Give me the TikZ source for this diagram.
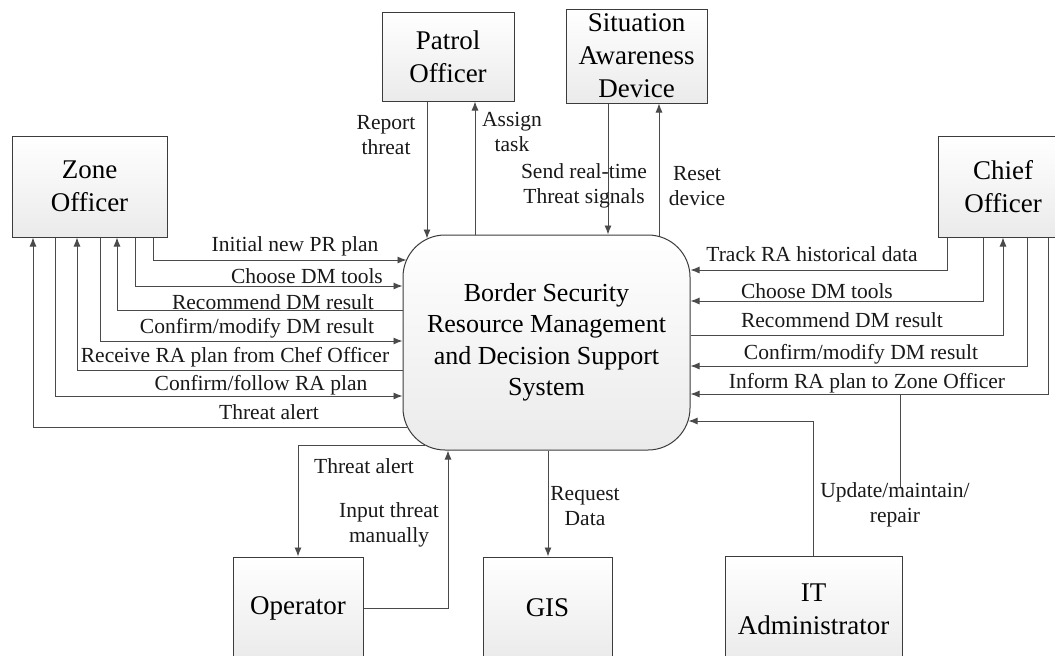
\documentclass[tikz,border=0pt]{standalone}
\usepackage{fontspec}
\setmainfont{Liberation Serif}
\usetikzlibrary{arrows.meta,calc}
\definecolor{ln}{HTML}{4A4A4A}
\definecolor{bd}{HTML}{3C3C3C}
\tikzset{
 ent/.style={draw=bd, line width=1pt, top color=white, bottom color=black!8, font=\fontsize{27}{33}\selectfont, align=center, inner sep=0pt},
 sysbox/.style={draw=bd, line width=1pt, rounded corners=42pt, top color=white, bottom color=black!8, font=\fontsize{26}{31.5}\selectfont, align=center, minimum width=287pt, minimum height=215pt, inner sep=0pt},
 flow/.style={draw=ln, line width=0.9pt, -{Latex[length=9pt,width=7pt]}},
 plain/.style={draw=ln, line width=0.9pt},
 lbl/.style={font=\fontsize{21.5}{25}\selectfont, inner sep=0pt, align=center, text=black!90},
}
\begin{document}
\begin{tikzpicture}[x=1pt,y=-1pt]
\useasboundingbox (0,0) rectangle (1055,656);
\fill[white] (0,0) rectangle (1055,656);
\clip (0,0) rectangle (1055,656);

% nodes
\node[sysbox] (sys) at (546.5,342.5) {Border Security\\Resource Management\\and Decision Support\\System};
\node[ent, minimum width=155pt, minimum height=101pt] (zone) at (89.5,186.5) {Zone\\Officer};
\node[ent, minimum width=132pt, minimum height=89pt] (patrol) at (448,56.5) {Patrol\\Officer};
\node[ent, minimum width=141pt, minimum height=94pt] (sad) at (636.5,56) {Situation\\Awareness\\Device};
\node[ent, minimum width=130pt, minimum height=101pt] (chief) at (1003,186.5) {Chief\\Officer};
\node[ent, minimum width=130pt, minimum height=102pt] (oper) at (298,608) {Operator};
\node[ent, minimum width=129pt, minimum height=102pt] (gis) at (547.5,608) {GIS};
\node[ent, minimum width=177pt, minimum height=106pt] (itadm) at (813.5,609) {IT\\Administrator};

% Zone officer flows
\draw[flow] (zone.south -| 153,0) |- ($(sys.west |- 0,260)+(4,0)$);
\draw[flow] (zone.south -| 135,0) |- (sys.west |- 0,286);
\draw[flow] (sys.west |- 0,310) -| (zone.south -| 117,0);
\draw[flow] (zone.south -| 100,0) |- (sys.west |- 0,341);
\draw[flow] (sys.west |- 0,370) -| (zone.south -| 77,0);
\draw[flow] (zone.south -| 55,0) |- (sys.west |- 0,396);
\draw[flow] ($(sys.west |- 0,427)+(4,0)$) -| (zone.south -| 33,0);

% Chief officer flows
\draw[flow] (chief.south -| 947,0) |- (sys.east |- 0,270);
\draw[flow] (chief.south -| 983,0) |- (sys.east |- 0,301);
\draw[flow] (sys.east |- 0,335) -| (chief.south -| 1003,0);
\draw[flow] (chief.south -| 1027,0) |- (sys.east |- 0,366);
\draw[flow] (chief.south -| 1048,0) |- (sys.east |- 0,394);
\coordinate (stubtop) at (900,394);
\coordinate (stubend) at (900,488);
\draw[plain] (stubtop) -- (stubend);

% IT admin
\draw[flow] (itadm.north) |- ($(sys.east |- 0,421)+(-2,0)$);

% top flows
\draw[flow] (patrol.south -| 427,0) -- ($(sys.north -| 427,0)+(0,4)$);
\draw[flow] (sys.north -| 475,0) -- (patrol.south -| 475,0);
\draw[flow] (sad.south -| 608,0) -- (sys.north -| 608,0);
\draw[flow] ($(sys.north -| 659,0)+(0,1.5)$) -- (sad.south -| 659,0);

% bottom flows
\draw[flow] ($(sys.south -| 425,0)+(0,-5)$) -| (oper.north);
\draw[flow] (oper.east) -| (sys.south -| 448,0);
\draw[flow] (sys.south -| 548,0) -- (gis.north -| 548,0);

% labels
\node[lbl] (lreport) at (386,135) {Report\\threat};
\node[lbl] (lassign) at (512,132) {Assign\\task};
\node[lbl] (lsend) at (584,186) {Send real-time\\Threat signals};
\node[lbl] (lreset) at (697,186) {Reset\\device};

\node[lbl] (l1) at (295,246) {Initial new PR plan};
\node[lbl] (l2) at (307,276) {Choose DM tools};
\node[lbl] (l3) at (273,302) {Recommend DM result};
\node[lbl] (l4) at (257,328) {Confirm/modify DM result};
\node[lbl] (l5) at (235,357) {Receive RA plan from Chef Officer};
\node[lbl] (l6) at (261,385) {Confirm/follow RA plan};
\node[lbl] (l7) at (269,412) {Threat alert};

\node[lbl] (r1) at (812,254) {Track RA historical data};
\node[lbl] (r2) at (817,291) {Choose DM tools};
\node[lbl] (r3) at (842,320) {Recommend DM result};
\node[lbl] (r4) at (861,354) {Confirm/modify DM result};
\node[lbl] (r5) at (867,383) {Inform RA plan to Zone Officer};

\node[lbl] (b1) at (364,466) {Threat alert};
\node[lbl] (b2) at (389,525) {Input threat\\manually};
\node[lbl] (b3) at (585,506) {Request\\Data};
\node[lbl] (b4) at (895,505) {Update/maintain/\\repair};
\end{tikzpicture}
\end{document}
